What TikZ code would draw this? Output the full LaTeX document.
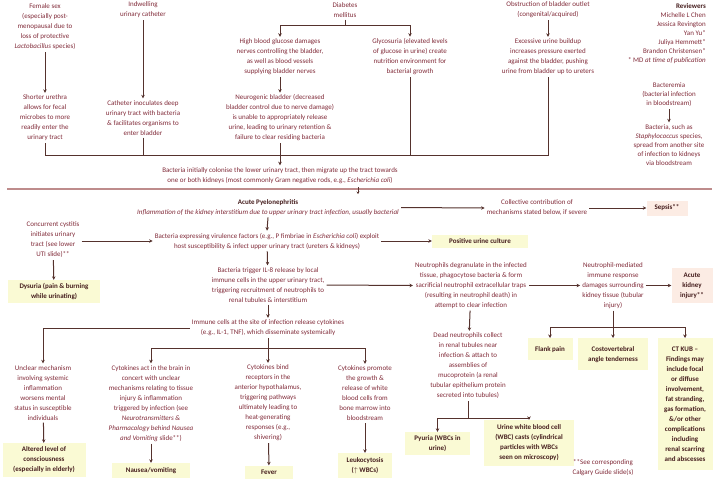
\documentclass[tikz,border=0pt]{standalone}
\usepackage{fontspec}
\setmainfont{Carlito}
\usetikzlibrary{arrows.meta}
\definecolor{tc}{RGB}{128,42,56}
\definecolor{dk}{RGB}{70,30,30}
\definecolor{lc}{RGB}{85,50,45}
\definecolor{sepc}{RGB}{190,140,140}
\definecolor{yel}{RGB}{250,250,212}
\definecolor{pnk}{RGB}{252,236,228}
\tikzset{
  txt/.style={text=tc, font={\fontsize{7}{10}\selectfont}, align=center, inner sep=2pt},
  txtn/.style={text=tc, font={\fontsize{7}{9}\selectfont}, align=center, inner sep=2pt},
  ybox/.style={fill=yel, text=dk, font={\fontsize{7}{10}\selectfont\bfseries}, align=center, inner sep=1pt},
  pbox/.style={ybox, fill=pnk},
  ln/.style={draw=lc, line width=1pt},
  arr/.style={draw=lc, line width=1pt, -{Stealth[length=3.5pt,width=3.5pt]}}
}
\begin{document}
\begin{tikzpicture}[x=1pt,y=-1pt]
\useasboundingbox (0,0) rectangle (720,480);
% ---------- top causes ----------
\node[txt] (fem) at (45,27) {Female sex\\(especially post-\\menopausal due to\\loss of protective\\\textit{Lactobacillus} species)};
\node[txt] (short) at (45,118) {Shorter urethra\\allows for fecal\\microbes to more\\readily enter the\\urinary tract};
\node[txt] (cath) at (143,10) {Indwelling\\urinary catheter};
\node[txt] (inoc) at (143,118) {Catheter inoculates deep\\urinary tract with bacteria\\\& facilitates organisms to\\enter bladder};
\node[txt] (dm) at (345,10) {Diabetes\\mellitus};
\node[txt] (hbg) at (280,57) {High blood glucose damages\\nerves controlling the bladder,\\as well as blood vessels\\supplying bladder nerves};
\node[txt] (neuro) at (280,118) {Neurogenic bladder (decreased\\bladder control due to nerve damage)\\is unable to appropriately release\\urine, leading to urinary retention \&\\failure to clear residing bacteria};
\node[txt] (gly) at (410,57) {Glycosuria (elevated levels\\of glucose in urine) create\\nutrition environment for\\bacterial growth};
\node[txt] (obs) at (548,10) {Obstruction of bladder outlet\\(congenital/acquired)};
\node[txt] (exc) at (548,57) {Excessive urine buildup\\increases pressure exerted\\against the bladder, pushing\\urine from bladder up to ureters};
\node[txtn, align=right, anchor=east] (rev) at (708,34) {{\color{dk}\textbf{Reviewers}}\\Michelle L Chen\\Jessica Revington\\Yan Yu*\\Juliya Hemmett*\\Brandon Christensen*\\* MD \textit{at time of publication}};
\node[txtn] (bact) at (669,95) {Bacteremia\\(bacterial infection\\in bloodstream)};
\node[txtn] (spread) at (669,145) {Bacteria, such as\\\textit{Staphylococcus} species,\\spread from another site\\of infection to kidneys\\via bloodstream};
\node[txt] (colon) at (280,175.5) {Bacteria initially colonise the lower urinary tract, then migrate up the tract towards\\one or both kidneys (most commonly Gram negative rods, e.g., \textit{Escherichia coli})};
% connectors top
\draw[arr] (fem) -- (short);
\draw[arr] (cath) -- (inoc);
\draw[arr] (obs) -- (exc);
\draw[arr] (bact) -- (spread);
\draw[arr] (hbg) -- (neuro);
\draw[ln] (dm.south) -- ++(0,6) coordinate (dmj);
\draw[arr] (dmj) -| (hbg.north);
\draw[arr] (dmj) -| (gly.north);
\coordinate (bus) at (0,155);
\draw[ln] (short.south) -- (short.south |- bus) -- (exc.south |- bus) -- (exc.south);
\draw[ln] (inoc.south) -- (inoc.south |- bus);
\draw[ln] (gly.south) -- (gly.south |- bus);
\draw[arr] (neuro.south) -- (colon.north);
% separator
\coordinate (sepL) at (7,189);
\coordinate (sepR) at (712,189);
\draw[draw=sepc, line width=1.6pt] (sepL) -- (sepR);
\coordinate (tickA) at (358,187);
\coordinate (tickB) at (358,194);
\draw[draw=lc, line width=0.8pt, -{Stealth[length=2.5pt,width=3pt]}] (tickA) -- (tickB);
% ---------- acute pyelonephritis ----------
\node[txt, font={\fontsize{7}{9.5}\selectfont}] (title) at (268,207.5) {{\color{dk}\textbf{Acute Pyelonephritis}}\\\textit{Inflammation of the kidney interstitium due to upper urinary tract infection, usually bacterial}};
\node[txt] (coll) at (537,208) {Collective contribution of\\mechanisms stated below, if severe};
\node[pbox, minimum width=41pt, minimum height=15pt] (sepsis) at (667,208) {Sepsis**};
\node[txt] (virul) at (267,241) {Bacteria expressing virulence factors (e.g., P fimbriae in \textit{Escherichia coli}) exploit\\host susceptibility \& infect upper urinary tract (ureters \& kidneys)};
\node[ybox, minimum width=96pt, minimum height=13pt] (posc) at (480,241) {Positive urine culture};
\node[txt] (conc) at (53,240) {Concurrent cystitis\\initiates urinary\\tract (see lower\\UTI slide)**};
\node[ybox, minimum width=92pt, minimum height=23pt] (dys) at (54,291.5) {Dysuria (pain \& burning\\while urinating)};
\node[txt] (il8) at (268,285) {Bacteria trigger IL-8 release by local\\immune cells in the upper urinary tract,\\triggering recruitment of neutrophils to\\renal tubules \& interstitium};
\node[txt] (neut) at (471,285.5) {Neutrophils degranulate in the infected\\tissue, phagocytose bacteria \& form\\sacrificial neutrophil extracellular traps\\(resulting in neutrophil death) in\\attempt to clear infection};
\node[txt] (nmed) at (613,285.5) {Neutrophil-mediated\\immune response\\damages surrounding\\kidney tissue (tubular\\injury)};
\node[pbox, minimum width=41pt, minimum height=35pt] (aki) at (692,285.5) {Acute\\kidney\\injury**};
\node[ybox, anchor=north, minimum width=45pt, minimum height=22pt] (flank) at (550,338) {Flank pain};
\node[ybox, anchor=north, minimum width=70pt, minimum height=32pt] (cva) at (613,338) {Costovertebral\\angle tenderness};
\node[ybox, anchor=north, minimum width=55pt, minimum height=132pt] (ct) at (685,338) {CT KUB --\\Findings may\\include focal\\or diffuse\\involvement,\\fat stranding,\\gas formation,\\\&/or other\\complications\\including\\renal scarring\\and abscesses};
\node[txt] (immune) at (268,328) {Immune cells at the site of infection release cytokines\\(e.g., IL-1, TNF), which disseminate systemically};
\node[txt] (dead) at (468,366) {Dead neutrophils collect\\in renal tubules near\\infection \& attach to\\assemblies of\\mucoprotein (a renal\\tubular epithelium protein\\secreted into tubules)};
\node[ybox, minimum width=65pt, minimum height=23pt] (pyuria) at (437.5,443.5) {Pyuria (WBCs in\\urine)};
\node[ybox, minimum width=90pt, minimum height=46pt] (casts) at (529,443) {Urine white blood cell\\(WBC) casts (cylindrical\\particles with WBCs\\seen on microscopy)};
\node[txt] (foot) at (603,467.5) {**See corresponding\\Calgary Guide slide(s)};
\node[txt] (unclr) at (43,393) {Unclear mechanism\\involving systemic\\inflammation\\worsens mental\\status in susceptible\\individuals};
\node[ybox, minimum width=83pt, minimum height=34pt] (alt) at (44,460) {Altered level of\\consciousness\\(especially in elderly)};
\node[txt] (brain) at (151,403.5) {Cytokines act in the brain in\\concert with unclear\\mechanisms relating to tissue\\injury \& inflammation\\triggered by infection (see\\\textit{Neurotransmitters \&}\\\textit{Pharmacology behind Nausea}\\\textit{and Vomiting} slide**)};
\node[ybox, minimum width=78pt, minimum height=15pt] (naus) at (151,470.5) {Nausea/vomiting};
\node[txt] (hyp) at (268,403) {Cytokines bind\\receptors in the\\anterior hypothalamus,\\triggering pathways\\ultimately leading to\\heat-generating\\responses (e.g.,\\shivering)};
\node[ybox, minimum width=48pt, minimum height=13pt] (fever) at (269,472) {Fever};
\node[txt] (wbc) at (365,393.5) {Cytokines promote\\the growth \&\\release of white\\blood cells from\\bone marrow into\\bloodstream};
\node[ybox, minimum width=54pt, minimum height=25pt] (leuko) at (365,465.5) {Leukocytosis\\($\uparrow$ WBCs)};
% connectors lower
\draw[arr] (title.east) -- (coll.west);
\draw[arr] (coll.east) -- (sepsis.west);
\draw[arr] (title.south) -- (virul.north);
\draw[arr] (conc.east |- virul.west) -- (virul.west);
\draw[arr] (conc) -- (dys);
\draw[arr] (virul.east) -- (posc.west);
\draw[arr] (virul) -- (il8);
\draw[arr] (il8.east) -- (neut.west);
\draw[arr] (neut.east) -- (nmed.west);
\draw[arr] (nmed.east) -- (aki.west);
\coordinate (nbus) at (0,327);
\draw[ln] (nmed.south) -- (nmed.south |- nbus);
\draw[ln] (flank.north |- nbus) -- (ct.north |- nbus);
\draw[arr] (flank.north |- nbus) -- (flank.north);
\draw[arr] (cva.north |- nbus) -- (cva.north);
\draw[arr] (ct.north |- nbus) -- (ct.north);
\draw[arr] (neut) -- (dead);
\coordinate (dbus) at (0,418);
\draw[ln] (dead.south) -- (dead.south |- dbus);
\draw[ln] (pyuria.north |- dbus) -- (casts.north |- dbus);
\draw[arr] (pyuria.north |- dbus) -- (pyuria.north);
\draw[arr] (casts.north |- dbus) -- (casts.north);
\draw[arr] (il8) -- (immune);
\draw[arr] (immune.west) -| (unclr.north);
\coordinate (ibus) at (0,348);
\draw[arr] (immune.south) -- (hyp.north);
\draw[ln] (brain.north |- ibus) -- (wbc.north |- ibus);
\draw[arr] (brain.north |- ibus) -- (brain.north);
\draw[arr] (wbc.north |- ibus) -- (wbc.north);
\draw[arr] (unclr) -- (alt);
\draw[arr] (brain) -- (naus);
\draw[arr] (hyp) -- (fever);
\draw[arr] (wbc) -- (leuko);
\end{tikzpicture}
\end{document}
